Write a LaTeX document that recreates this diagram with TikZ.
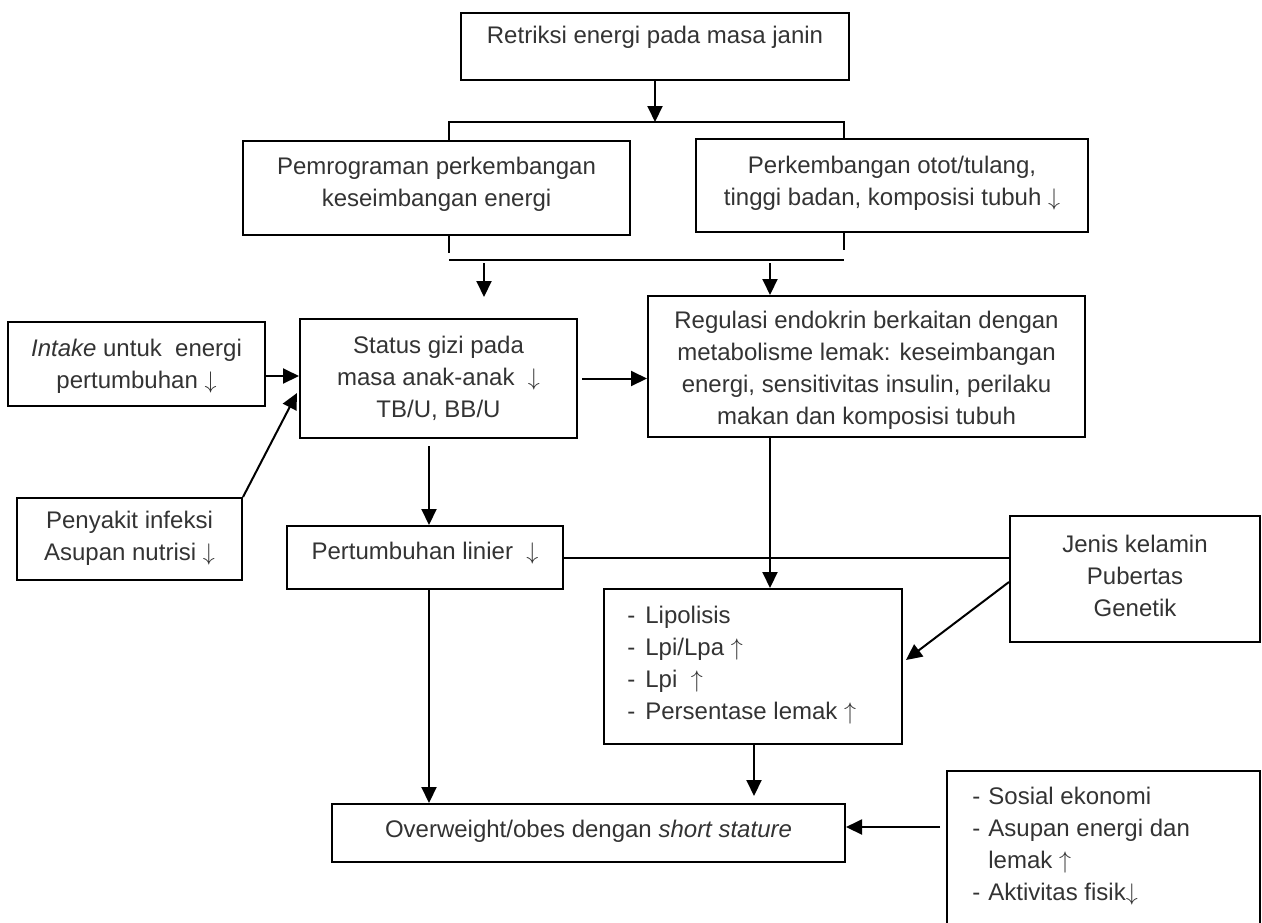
\documentclass[tikz,border=0pt]{standalone}
\usepackage{fontspec}
\setmainfont{Liberation Sans}
\usetikzlibrary{arrows.meta}
\newcommand\arrdn{\ensuremath{\downarrow}}
\newcommand\arrup{\ensuremath{\uparrow}}
\begin{document}
\begin{tikzpicture}[x=0.5pt,y=-0.5pt,
  box/.style={draw, line width=1pt, inner sep=0pt, rectangle},
  txt/.style={font=\fontsize{12}{16}\selectfont, text=black!80, align=center, inner sep=0pt},
  arr/.style={line width=1pt, -{Triangle[width=7.5pt,length=8pt]}},
  ln/.style={line width=1pt}]
\useasboundingbox (0,0) rectangle (1262,922);
% boxes
\node[box, minimum width=194pt, minimum height=33.5pt] (top) at (655,46.5) {};
\node[box, minimum width=193.5pt, minimum height=47pt] (pem) at (436.5,188) {};
\node[box, minimum width=196pt, minimum height=46.5pt] (perk) at (892,185.5) {};
\node[box, minimum width=128.5pt, minimum height=42pt] (intake) at (136.5,364) {};
\node[box, minimum width=138.5pt, minimum height=59.5pt] (status) at (438.5,378.5) {};
\node[box, minimum width=218.5pt, minimum height=70.5pt] (reg) at (866.5,366.5) {};
\node[box, minimum width=112.5pt, minimum height=41pt] (peny) at (129.5,539) {};
\node[box, minimum width=138pt, minimum height=31.5pt] (pert) at (425,557.5) {};
\node[box, minimum width=125pt, minimum height=63pt] (jenis) at (1135,579) {};
\node[box, minimum width=149pt, minimum height=77.5pt] (lip) at (753,666.5) {};
\node[box, minimum width=256.5pt, minimum height=29pt] (over) at (588.5,833) {};
\node[box, minimum width=156.5pt, minimum height=94.5pt] (sos) at (1103.5,865.5) {};
% texts
\node[txt] (ttop) at (655,37) {Retriksi energi pada masa janin};
\node[txt] (tpem) at (436.5,184) {Pemrograman perkembangan\\keseimbangan energi};
\node[txt] (tperk) at (892,183) {Perkembangan otot/tulang,\\tinggi badan, komposisi tubuh \arrdn};
\node[txt] (tintake) at (136.5,366) {\textit{Intake} untuk\ \ energi\\pertumbuhan \arrdn};
\node[txt] (tstatus) at (438.5,378) {Status gizi pada\\masa anak-anak\ \ \arrdn\\TB/U, BB/U};
\node[txt] (treg) at (866.5,370) {Regulasi endokrin berkaitan dengan\\metabolisme lemak: keseimbangan\\energi, sensitivitas insulin, perilaku\\makan dan komposisi tubuh};
\node[txt] (tpeny) at (129.5,538) {Penyakit infeksi\\Asupan nutrisi \arrdn};
\node[txt] (tpert) at (425,553) {Pertumbuhan linier\ \ \arrdn};
\node[txt] (tjenis) at (1135,576) {Jenis kelamin\\Pubertas\\Genetik};
\node[txt, anchor=north west, align=left] (tlip) at (627,601)
  {\begin{tabular}{@{}l@{\hspace{5pt}}l@{}}-&Lipolisis\\-&Lpi/Lpa \arrup\\-&Lpi\ \ \arrup\\-&Persentase lemak \arrup\end{tabular}};
\node[txt] (tover) at (588.5,831) {Overweight/obes dengan \textit{short stature}};
\node[txt, anchor=north west, align=left] (tsos) at (972,782)
  {\begin{tabular}{@{}l@{\hspace{4pt}}l@{}}-&Sosial ekonomi\\-&Asupan energi dan\\&lemak \arrup\\-&Aktivitas fisik\arrdn\end{tabular}};
% coordinates
\coordinate (bL) at (449,122);
\coordinate (bR) at (844,122);
\coordinate (cL) at (449,260);
\coordinate (cR) at (844,260);
\coordinate (aS) at (484,297);
\coordinate (xS) at (429,0);
\coordinate (xR) at (770,0);
\coordinate (xL) at (754,0);
\coordinate (yI) at (0,376);
\coordinate (yP) at (0,393);
\coordinate (yJ) at (0,582);
\coordinate (yL) at (0,660);
\coordinate (yO) at (0,827);
% connectors
\draw[arr] (top.south) -- (top.south |- bL);
\draw[ln] (bL |- pem.north) -- (bL) -- (bR) -- (bR |- perk.north);
\draw[ln] (bL |- pem.south) -- (449,253);
\draw[ln] (bR |- perk.south) -- (844,250);
\draw[ln] (cL) -- (cR);
\draw[arr] (aS |- cL) ++(0,3) -- (aS);
\draw[arr] (xR |- cL) ++(0,3) -- (xR |- reg.north);
\draw[arr] (intake.east |- yI) -- (status.west |- yI);
\draw[arr] (peny.north east) -- ([xshift=-1pt]status.west |- yP);
\draw[arr] ([xshift=2pt]status.east) -- (reg.west |- status.east);
\draw[arr] ([yshift=-3.5pt]xS |- status.south) -- (xS |- pert.north);
\draw[arr] (xR |- reg.south) -- (xR |- lip.north);
\draw[ln] (pert.east) -- (pert.east -| jenis.west);
\draw[arr] (jenis.west |- yJ) -- ([xshift=1.5pt]lip.east |- yL);
\draw[arr] (xS |- pert.south) -- (xS |- over.north);
\draw[arr] (xL |- lip.south) -- ([yshift=3.5pt]xL |- over.north);
\draw[arr] ([xshift=-3pt]sos.west |- yO) -- (over.east |- yO);
\end{tikzpicture}
\end{document}
